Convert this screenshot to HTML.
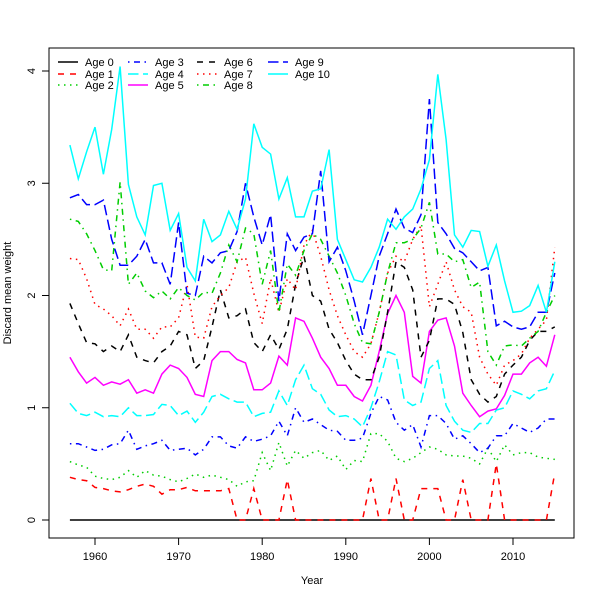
<!DOCTYPE html>
<html><head><meta charset="utf-8"><style>
html,body{margin:0;padding:0;background:#fff;}
svg{display:block;font-family:"Liberation Sans","DejaVu Sans",sans-serif;}
</style></head><body>
<svg id="chart" width="600" height="600" viewBox="0 0 600 600">
<rect x="0" y="0" width="600" height="600" fill="#fff"/>
<rect x="49" y="48" width="525" height="490" fill="none" stroke="#000" stroke-width="1"/>
<g id="axes"></g>
<g id="series"></g>
<g id="legend"></g>
<text x="312" y="584" text-anchor="middle" font-size="11">Year</text>
<text x="11" y="293" text-anchor="middle" font-size="11" transform="rotate(-90 11 293)">Discard mean weight</text>
</svg>
<script>
const startYear = 1957;
const xTicks = [1960, 1970, 1980, 1990, 2000, 2010];
const yTicks = [0, 1, 2, 3, 4];
const seriesNames = ["Age 0","Age 1","Age 2","Age 3","Age 4","Age 5","Age 6","Age 7","Age 8","Age 9","Age 10"];
const age0 = [0,0,0,0,0,0,0,0,0,0, 0,0,0,0,0,0,0,0,0,0, 0,0,0,0,0,0,0,0,0,0, 0,0,0,0,0,0,0,0,0,0, 0,0,0,0,0,0,0,0,0,0, 0,0,0,0,0,0,0,0,0];
const age1 = [0.38,0.36,0.35,0.29,0.28,0.26,0.25,0.27,0.3,0.32, 0.3,0.23,0.27,0.27,0.29,0.26,0.26,0.26,0.26,0.28, 0,0,0.28,0,0,0,0.36,0,0,0, 0,0,0,0,0,0,0.37,0,0,0.37, 0,0,0.28,0.28,0.28,0,0,0.36,0,0, 0,0.5,0,0,0,0,0,0,0.42];
const age2 = [0.52,0.49,0.47,0.39,0.37,0.36,0.38,0.44,0.38,0.44, 0.4,0.39,0.36,0.34,0.37,0.41,0.38,0.4,0.38,0.36, 0.3,0.34,0.35,0.6,0.44,0.69,0.48,0.62,0.55,0.6, 0.62,0.53,0.57,0.45,0.53,0.52,0.77,0.77,0.7,0.55, 0.52,0.55,0.6,0.65,0.63,0.58,0.57,0.57,0.55,0.5, 0.64,0.52,0.67,0.58,0.6,0.6,0.56,0.55,0.54];
const age3 = [0.68,0.68,0.65,0.62,0.63,0.67,0.68,0.8,0.63,0.66, 0.68,0.71,0.62,0.63,0.64,0.58,0.63,0.74,0.74,0.66, 0.64,0.74,0.7,0.72,0.75,0.88,0.75,1.0,0.87,0.9, 0.85,0.8,0.79,0.71,0.71,0.73,0.95,1.1,1.07,0.87, 0.8,0.85,0.65,0.93,0.93,0.86,0.72,0.75,0.68,0.6, 0.64,0.75,0.75,0.86,0.82,0.78,0.82,0.9,0.9];
const age4 = [1.04,0.95,0.93,0.96,0.92,0.93,0.92,1.0,0.93,0.93, 0.94,1.03,1.02,0.93,0.97,0.87,0.96,1.1,1.12,1.08, 1.05,1.05,0.92,0.95,0.96,1.15,1.02,1.25,1.38,1.17, 1.12,0.98,0.92,0.93,0.9,0.83,1.0,1.23,1.5,1.47, 1.07,1.02,1.05,1.35,1.42,1.02,0.88,0.8,0.78,0.86, 0.86,0.98,1.0,1.15,1.12,1.08,1.15,1.17,1.33];
const age5 = [1.45,1.32,1.22,1.27,1.2,1.23,1.21,1.25,1.13,1.16, 1.13,1.3,1.38,1.35,1.27,1.12,1.1,1.42,1.5,1.5, 1.43,1.4,1.16,1.16,1.22,1.46,1.38,1.8,1.77,1.62, 1.45,1.35,1.2,1.2,1.1,1.06,1.2,1.5,1.84,2.0, 1.85,1.28,1.22,1.68,1.78,1.8,1.55,1.13,1.02,0.92, 0.97,0.99,1.11,1.3,1.3,1.4,1.45,1.37,1.65];
const age6 = [1.93,1.75,1.58,1.57,1.5,1.55,1.5,1.65,1.45,1.42, 1.4,1.5,1.55,1.68,1.65,1.35,1.42,1.72,2.05,1.8, 1.82,1.88,1.58,1.5,1.65,1.52,1.7,2.1,2.35,2.0, 1.95,1.7,1.58,1.42,1.3,1.25,1.25,1.45,1.85,2.3, 2.25,2.05,1.45,1.6,1.97,1.97,1.92,1.67,1.25,1.12, 1.05,1.1,1.3,1.38,1.45,1.6,1.68,1.68,1.72];
const age7 = [2.33,2.32,2.15,1.92,1.88,1.82,1.73,1.88,1.7,1.7, 1.62,1.72,1.72,1.8,2.1,1.63,1.62,1.9,2.0,2.07, 2.3,2.34,2.02,1.75,2.15,1.85,2.15,2.05,2.45,2.58, 2.35,2.05,1.82,1.65,1.5,1.45,1.57,1.85,2.2,2.35, 2.3,2.5,2.62,1.9,2.1,2.3,2.05,1.9,1.85,1.45, 1.3,1.2,1.38,1.42,1.48,1.62,1.7,1.78,2.43];
const age8 = [2.68,2.66,2.55,2.4,2.23,2.22,3.01,2.1,2.2,2.04, 1.98,2.04,1.97,2.07,2.0,1.96,2.03,2.02,2.2,2.45, 2.3,2.6,2.55,2.1,2.4,1.85,2.28,2.18,2.4,2.55, 2.5,2.35,2.2,2.0,1.75,1.58,1.57,1.85,2.2,2.47, 2.47,2.5,2.6,2.83,2.37,2.37,2.3,2.32,2.07,2.12, 1.5,1.38,1.55,1.56,1.55,1.62,1.68,1.85,2.0];
const age9 = [2.87,2.9,2.81,2.81,2.85,2.5,2.27,2.27,2.35,2.5, 2.29,2.29,2.1,2.65,2.02,2.0,2.35,2.29,2.38,2.4, 2.57,3.0,2.7,2.45,2.72,1.95,2.55,2.4,2.52,2.55, 3.11,2.3,2.43,2.22,1.95,1.65,2.0,2.35,2.55,2.77, 2.6,2.56,2.72,3.75,2.65,2.55,2.42,2.38,2.3,2.22, 2.25,1.73,1.77,1.72,1.7,1.72,1.85,1.85,2.2];
const age10 = [3.34,3.04,3.28,3.5,3.08,3.48,4.04,2.99,2.7,2.54, 2.98,3.0,2.58,2.73,2.25,2.13,2.68,2.48,2.54,2.75, 2.59,2.86,3.53,3.32,3.26,2.86,3.05,2.7,2.7,2.93, 2.95,3.3,2.5,2.32,2.14,2.12,2.25,2.43,2.68,2.59, 2.7,2.77,2.95,3.21,3.97,3.39,2.54,2.43,2.58,2.57, 2.26,2.45,2.13,1.85,1.86,1.91,2.09,1.85,2.3];

const allSeries = [age0,age1,age2,age3,age4,age5,age6,age7,age8,age9,age10];
const colors = ["#000000","#ff0000","#00cd00","#0000ff","#00ffff","#ff00ff"];
const dashes = ["", "6 6", "1.5 4.5", "1.5 4.5 6 4.5", "10.5 4.5"];

const NS = "http://www.w3.org/2000/svg";
function xs(yr){ return 95 + (yr - 1960) * 8.36; }
function ys(v){ return 520 - v * 112.25; }
function mk(tag, attrs, parent){ const e=document.createElementNS(NS,tag); for(const k in attrs) e.setAttribute(k,attrs[k]); parent.appendChild(e); return e; }

const axes = document.getElementById('axes');
let xl = mk('line',{x1:xs(xTicks[0]),x2:xs(xTicks[xTicks.length-1]),y1:538,y2:538,stroke:'#000'},axes);


xTicks.forEach(t=>{
  const tk = mk('line',{x1:xs(t),x2:xs(t),y1:538,y2:545,stroke:'#000'},axes);
  
  
  const lb = mk('text',{x:xs(t),y:560,'text-anchor':'middle','font-size':11},axes);
  lb.textContent = t;
  
  
});
let yl = mk('line',{x1:49,x2:49,y1:ys(yTicks[0]),y2:ys(yTicks[yTicks.length-1]),stroke:'#000'},axes);


yTicks.forEach(t=>{
  const tk = mk('line',{x1:42,x2:49,y1:ys(t),y2:ys(t),stroke:'#000'},axes);
  
  
  const lb = mk('text',{x:35,y:ys(t),'text-anchor':'middle','font-size':11,transform:`rotate(-90 35 ${ys(t)})`},axes);
  lb.textContent = t;
  
  
});

const sg = document.getElementById('series');
allSeries.forEach((arr,i)=>{
  const pts = arr.map((v,j)=>xs(startYear+j).toFixed(1)+','+ys(v).toFixed(1)).join(' ');
  const pl = mk('polyline',{points:pts,fill:'none',stroke:colors[i%6],'stroke-width':1.5,'stroke-dasharray':dashes[i%5]},sg);
  
  
});

const lg = document.getElementById('legend');
const colX = [58,128,197,268];
const rowY = [62,74,85];
seriesNames.forEach((n,i)=>{
  const c = Math.floor(i/3), r = i%3;
  const g = mk('g',{},lg);
  
  
  mk('line',{x1:colX[c],x2:colX[c]+20,y1:rowY[r],y2:rowY[r],stroke:colors[i%6],'stroke-width':1.5,'stroke-dasharray':dashes[i%5]},g);
  const t = mk('text',{x:colX[c]+27,y:rowY[r]+4,'font-size':11},g);
  t.textContent = n;
});
</script>
</body></html>
